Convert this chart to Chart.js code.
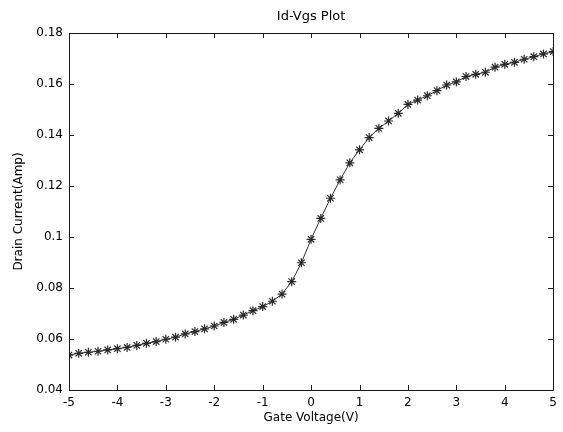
<!DOCTYPE html>
<html>
<head>
<meta charset="utf-8">
<title>Id-Vgs Plot</title>
<script src="https://cdn.jsdelivr.net/npm/chart.js@4.4.1/dist/chart.umd.min.js"></script>
<style>
  html, body { margin: 0; padding: 0; background: #fff; }
  #box { width: 563px; height: 432px; }
</style>
</head>
<body>
<div id="box"><canvas id="plot" width="563" height="432"></canvas></div>
<script>
// gate voltage (V), step 0.2
const gateVoltage = [
  -5.0, -4.8, -4.6, -4.4, -4.2, -4.0, -3.8, -3.6, -3.4, -3.2,
  -3.0, -2.8, -2.6, -2.4, -2.2, -2.0, -1.8, -1.6, -1.4, -1.2,
  -1.0, -0.8, -0.6, -0.4, -0.2, 0.0, 0.2, 0.4, 0.6, 0.8,
  1.0, 1.2, 1.4, 1.6, 1.8, 2.0, 2.2, 2.4, 2.6, 2.8,
  3.0, 3.2, 3.4, 3.6, 3.8, 4.0, 4.2, 4.4, 4.6, 4.8, 5.0
];
// drain current (Amp)
const drainCurrent = [
  0.0537, 0.0544, 0.0548, 0.0552, 0.0557, 0.0562, 0.0567, 0.0575, 0.0583, 0.0590,
  0.0599, 0.0607, 0.0620, 0.0629, 0.0640, 0.0651, 0.0665, 0.0677, 0.0694, 0.0711,
  0.0727, 0.0748, 0.0776, 0.0825, 0.0899, 0.0991, 0.1073, 0.1152, 0.1224, 0.1291,
  0.1342, 0.1390, 0.1426, 0.1455, 0.1485, 0.1520, 0.1537, 0.1554, 0.1574, 0.1596,
  0.1608, 0.1629, 0.1638, 0.1646, 0.1666, 0.1677, 0.1685, 0.1697, 0.1707, 0.1718, 0.1727
];
const xTicks = [-5, -4, -3, -2, -1, 0, 1, 2, 3, 4, 5];
const yTicks = [0.04, 0.06, 0.08, 0.1, 0.12, 0.14, 0.16, 0.18];

const points = gateVoltage.map((v, i) => ({ x: v, y: drainCurrent[i] }));
const font = "'DejaVu Sans', Verdana, sans-serif";
const ink = '#1a1a1a';

// box round the axes + ticks pointing in, on all four sides
const matlabAxes = {
  id: 'matlabAxes',
  afterDraw(chart) {
    const ctx = chart.ctx;
    const a = chart.chartArea;
    const xs = chart.scales.x, ys = chart.scales.y;
    const len = 5;
    ctx.save();
    ctx.strokeStyle = ink;
    ctx.lineWidth = 1;
    ctx.beginPath();
    ctx.rect(Math.round(a.left) + 0.5, Math.round(a.top) + 0.5,
      Math.round(a.right - a.left), Math.round(a.bottom - a.top));
    xTicks.forEach(t => {
      const px = Math.round(xs.getPixelForValue(t)) + 0.5;
      ctx.moveTo(px, a.bottom); ctx.lineTo(px, a.bottom - len);
      ctx.moveTo(px, a.top); ctx.lineTo(px, a.top + len);
    });
    yTicks.forEach(t => {
      const py = Math.round(ys.getPixelForValue(t)) + 0.5;
      ctx.moveTo(a.left, py); ctx.lineTo(a.left + len, py);
      ctx.moveTo(a.right, py); ctx.lineTo(a.right - len, py);
    });
    ctx.stroke();
    ctx.restore();
  }
};

new Chart(document.getElementById('plot'), {
  type: 'scatter',
  data: {
    datasets: [{
      data: points,
      showLine: true,
      borderColor: '#333',
      borderWidth: 1,
      pointStyle: 'star',
      pointRadius: 4.5,
      pointBorderColor: '#2a2a2a',
      pointBackgroundColor: '#2a2a2a',
      pointBorderWidth: 1.2,
      tension: 0
    }]
  },
  options: {
    responsive: false,
    animation: false,
    layout: { padding: { left: 0, right: 8, top: 0, bottom: 0 } },
    plugins: {
      legend: { display: false },
      tooltip: { enabled: false },
      title: { display: false }
    },
    scales: {
      // top axis only carries the plot title, so it sits centred over the axes
      xTop: {
        type: 'linear',
        position: 'top',
        min: -5, max: 5,
        afterFit: s => { s.height = 33; },
        grid: { display: false, drawTicks: false },
        border: { display: false },
        ticks: { display: false },
        title: {
          display: true,
          text: 'Id-Vgs Plot',
          color: '#000',
          font: { family: font, size: 13, lineHeight: 1.2 },
          padding: { top: 9, bottom: 0 }
        }
      },
      x: {
        type: 'linear',
        min: -5, max: 5,
        afterBuildTicks: s => { s.ticks = xTicks.map(v => ({ value: v })); },
        afterFit: s => { s.height = 42; },
        grid: { display: false, drawTicks: false },
        border: { display: false },
        ticks: { color: '#000', padding: 6, font: { family: font, size: 12 }, maxRotation: 0 },
        title: {
          display: true,
          text: 'Gate Voltage(V)',
          color: '#000',
          font: { family: font, size: 12, lineHeight: 1.2 },
          padding: { top: 0, bottom: 7 }
        }
      },
      y: {
        type: 'linear',
        min: 0.04, max: 0.18,
        afterBuildTicks: s => { s.ticks = yTicks.map(v => ({ value: v })); },
        afterFit: s => { s.width = 69; },
        grid: { display: false, drawTicks: false },
        border: { display: false },
        ticks: {
          color: '#000', padding: 6, font: { family: font, size: 12 },
          callback: v => String(parseFloat(v.toFixed(2)))
        },
        title: {
          display: true,
          text: 'Drain Current(Amp)',
          color: '#000',
          font: { family: font, size: 12, lineHeight: 1.2 },
          padding: { top: 12, bottom: 0 }
        }
      }
    }
  },
  plugins: [matlabAxes]
});
</script>
</body>
</html>
